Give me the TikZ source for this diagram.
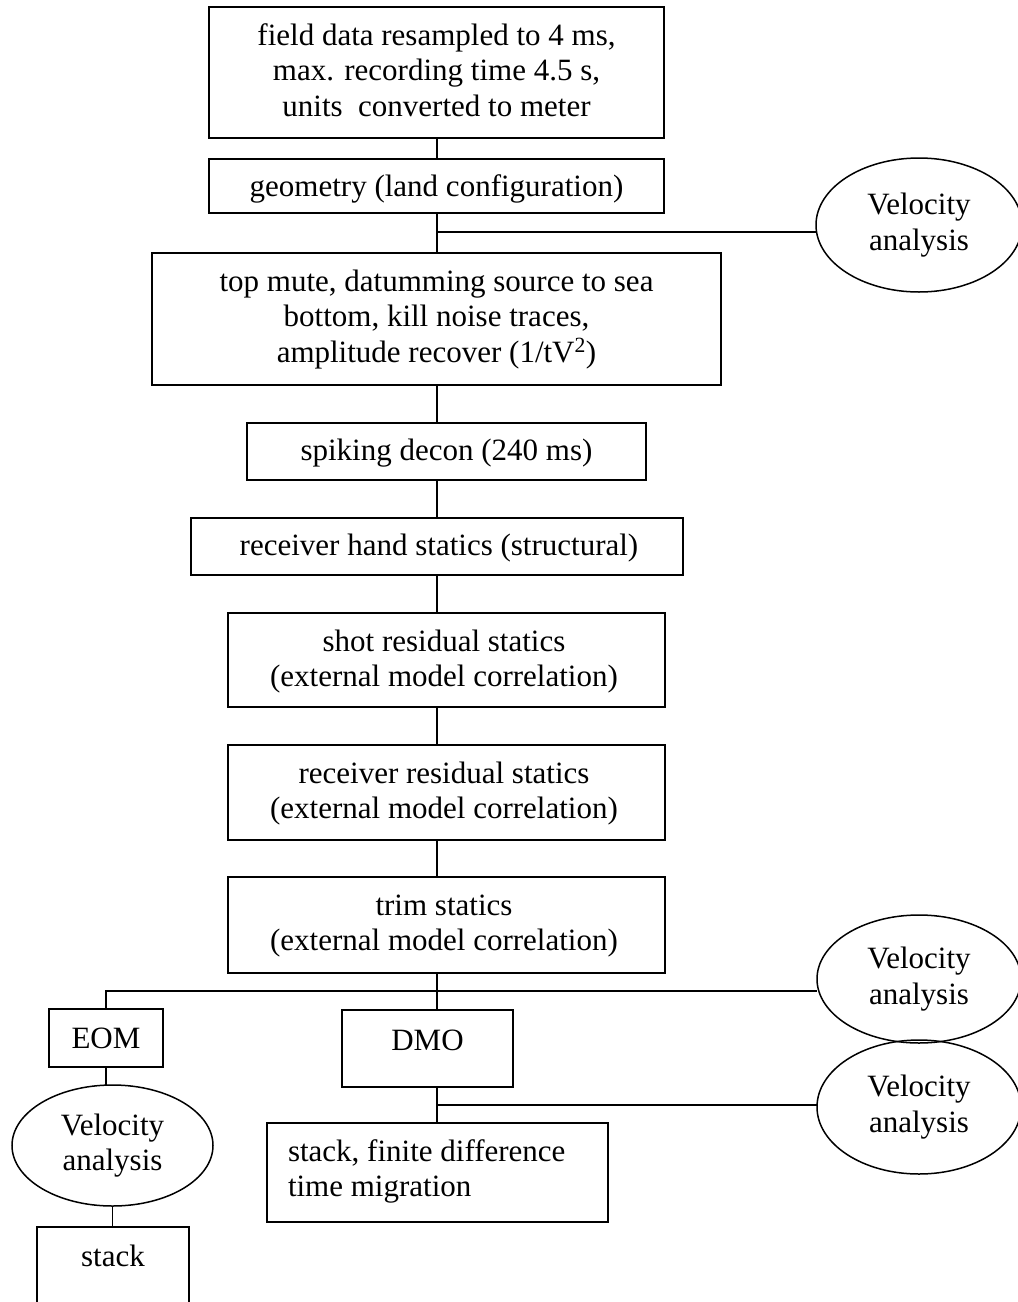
\documentclass[tikz,border=0pt]{standalone}
\usepackage{fontspec}
\setmainfont{Liberation Serif}
\usetikzlibrary{shapes.geometric}
\begin{document}
\begin{tikzpicture}[x=1pt,y=-1pt,font=\fontsize{31}{35.5}\selectfont]
\tikzset{
  bx/.style={draw, rectangle, inner sep=0pt, outer sep=0pt, line width=1.5pt},
  el/.style={draw, ellipse, inner sep=0pt, outer sep=0pt, line width=1.5pt, align=center},
  lb/.style={anchor=north, inner sep=0pt, outer sep=0pt, align=center},
  lbl/.style={anchor=north west, inner sep=0pt, outer sep=0pt, align=left},
  lbb/.style={anchor=base, inner sep=0pt, outer sep=0pt},
  cn/.style={line width=1.5pt}
}
\useasboundingbox (0,0) rectangle (1018,1302);
\clip (0,0) rectangle (1018,1302);
\fill[white] (0,0) rectangle (1018,1302);
\coordinate (sp) at (437,0);

% boxes
\node[bx, minimum width=455pt, minimum height=131pt] (b1) at (436.5,72.5) {};
\node[lb] (t1) at (436.5,20.15) {\strut field data resampled to 4 ms,\\max. recording time 4.5 s,\\units~ converted to meter};
\node[bx, minimum width=455pt, minimum height=54pt] (b2) at (436.5,186) {};
\node[lbb] (t2) at (436.5,196) {geometry (land configuration)};
\node[bx, minimum width=569pt, minimum height=132pt] (b3) at (436.5,319) {};
\node[lb] (t3) at (436.5,266.15) {\strut top mute, datumming source to sea\\bottom, kill noise traces,\\amplitude recover (1/tV\textsuperscript{2})};
\node[bx, minimum width=399pt, minimum height=57pt] (b4) at (446.5,451.5) {};
\node[lbb] (t4) at (446.5,460) {spiking decon (240 ms)};
\node[bx, minimum width=492pt, minimum height=57pt] (b5) at (437,546.5) {};
\node[lbb] (t5) at (439,555) {receiver hand statics (structural)};
\node[bx, minimum width=437pt, minimum height=94pt] (b6) at (446.5,660) {};
\node[lb] (t6) at (444,626.15) {\strut shot residual statics\\(external model correlation)};
\node[bx, minimum width=437pt, minimum height=95pt] (b7) at (446.5,792.5) {};
\node[lb] (t7) at (444,758.15) {\strut receiver residual statics\\(external model correlation)};
\node[bx, minimum width=437pt, minimum height=96pt] (b8) at (446.5,925) {};
\node[lb] (t8) at (444,890.15) {\strut trim statics\\(external model correlation)};
\node[bx, minimum width=114pt, minimum height=58pt] (eom) at (106,1038) {};
\node[lbb] (teom) at (106,1048) {EOM};
\node[bx, minimum width=171pt, minimum height=77pt] (dmo) at (427.5,1048.5) {};
\node[lbb] (tdmo) at (427.5,1050) {DMO};
\node[bx, minimum width=341pt, minimum height=99pt] (fd) at (437.5,1172.5) {};
\node[lbl] (tfd) at (288,1136.15) {\strut stack, finite difference\\time migration};
\node[bx, minimum width=152pt, minimum height=103pt] (stk) at (113,1278.5) {};
\node[lbb] (tstk) at (113,1266) {stack};

% ellipses
\node[el, minimum width=206pt, minimum height=134pt] (e1) at (919,225) {Velocity\\analysis};
\node[el, minimum width=204pt, minimum height=128pt] (e2) at (919,979) {Velocity\\analysis};
\node[el, minimum width=204pt, minimum height=134pt] (e3) at (919,1107) {Velocity\\analysis};
\node[el, minimum width=201pt, minimum height=121pt] (e4) at (112.5,1145.5) {Velocity\\analysis};

% junctions
\coordinate (j1) at (437,232);
\coordinate (j2) at (437,991);
\coordinate (j3) at (437,1105);

% connectors
\draw[cn] (sp |- b1.south) -- (sp |- b2.north);
\draw[cn] (sp |- b2.south) -- (sp |- b3.north);
\draw[cn] (j1) -- (j1 -| e1.west);
\draw[cn] (sp |- b3.south) -- (sp |- b4.north);
\draw[cn] (sp |- b4.south) -- (sp |- b5.north);
\draw[cn] (sp |- b5.south) -- (sp |- b6.north);
\draw[cn] (sp |- b6.south) -- (sp |- b7.north);
\draw[cn] (sp |- b7.south) -- (sp |- b8.north);
\draw[cn] (sp |- b8.south) -- (sp |- dmo.north);
\draw[cn] (eom.north) |- (j2) -- (j2 -| e2.west);
\draw[cn] (sp |- dmo.south) -- (sp |- fd.north);
\draw[cn] (j3) -- (j3 -| e3.west);
\draw[cn] (eom.south) -- (eom.south |- e4.north);
\draw[cn] (e4.south) -- (e4.south |- stk.north);
\end{tikzpicture}
\end{document}
